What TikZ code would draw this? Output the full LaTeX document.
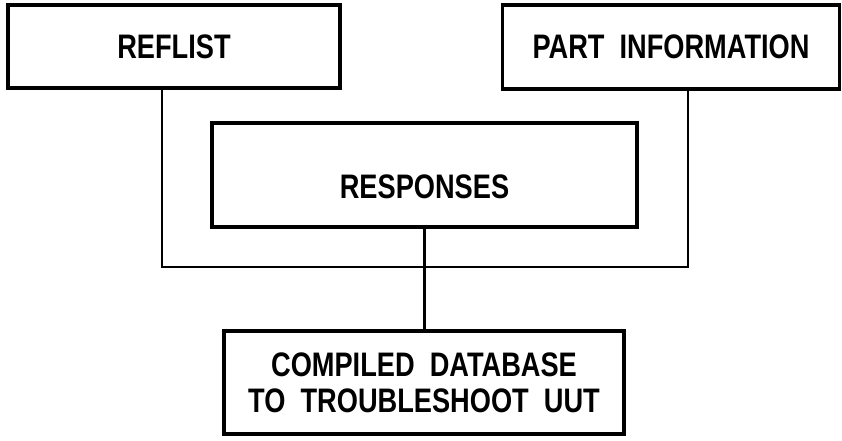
\documentclass[tikz,border=0pt]{standalone}
\usepackage{fontspec}
\setmainfont{Liberation Sans}
\newfontfamily\boxfont[FakeStretch=0.8]{Liberation Sans Bold}
\usepackage{xcolor}
\usepackage{tikz}
\tikzset{
  box/.style={draw=black, line width=3.2pt, line join=miter, inner sep=0pt, align=center},
  link/.style={draw=black, line width=2.4pt, line cap=rect},
  lab/.style={font=\boxfont\fontsize{34}{36}\selectfont},
}

\begin{document}
\begin{tikzpicture}[x=1pt,y=-1pt]
  \useasboundingbox (0,0) rectangle (842,441);
  % the three sources
  \node[box,lab,minimum width=332pt,minimum height=83pt] (reflist) at (174,46.5) {REFLIST};
  \node[box,lab,minimum width=337pt,minimum height=84pt] (partinfo) at (671,47) {PART\ \ INFORMATION};
  \node[box,lab,minimum width=425pt,minimum height=104pt,text height=47pt,text depth=0pt] (responses) at (424.5,175) {RESPONSES};
  % result
  \node[box,lab,minimum width=400pt,minimum height=103pt] (database) at (424,382.5) {COMPILED\ \ DATABASE\\TO\ \ TROUBLESHOOT\ \ UUT};
  % bus joining the two outer boxes
  \coordinate (busL) at (162,267);
  \coordinate (busR) at (688,267);
  \draw[link] (reflist.south -| busL) -- (busL) -- (busR) -- (partinfo.south -| busR);
  \draw[link] (responses.south) -- (responses.south |- database.north);
\end{tikzpicture}
\end{document}
